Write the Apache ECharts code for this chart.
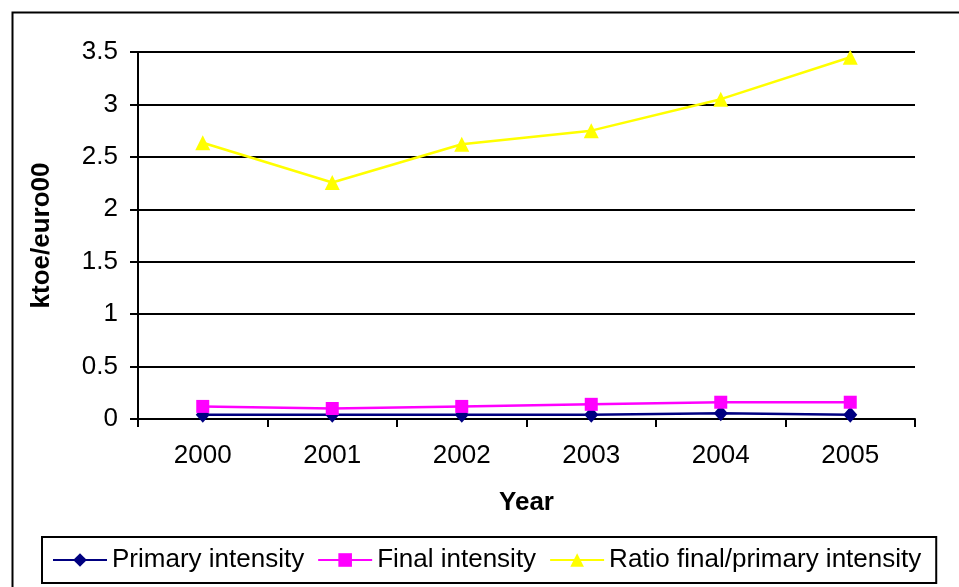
<!DOCTYPE html>
<html>
<head>
<meta charset="utf-8">
<script src="https://cdn.jsdelivr.net/npm/echarts@6/dist/echarts.min.js"></script>
<style>
  html, body { margin: 0; padding: 0; background: #fff; }
  #chart { width: 959px; height: 587px; }
</style>
</head>
<body>
<div id="chart"></div>
<script>
// Energy intensity indicators by year
const years = ['2000', '2001', '2002', '2003', '2004', '2005'];
const primaryIntensity = [0.04, 0.04, 0.04, 0.04, 0.055, 0.04];
const finalIntensity = [0.12, 0.10, 0.12, 0.14, 0.16, 0.16];
const ratioFinalPrimary = [2.635, 2.255, 2.62, 2.75, 3.05, 3.45];

const seriesNames = ['Primary intensity', 'Final intensity', 'Ratio final/primary intensity'];
const seriesColors = ['#000080', '#FF00FF', '#FFFF00'];

const FONT = '"Liberation Sans", Arial, sans-serif';
const FS = 26;

const chart = echarts.init(document.getElementById('chart'), null, { renderer: 'canvas' });

chart.setOption({
  animation: false,
  backgroundColor: '#ffffff',
  textStyle: { fontFamily: FONT, color: '#000' },
  graphic: [{
    type: 'rect',
    left: 10, top: 10,
    shape: { width: 1000, height: 1000 },
    style: { fill: 'none', stroke: '#000', lineWidth: 2 },
    silent: true, z: -1
  }],
  grid: { left: 138, right: 44, top: 52, bottom: 168 },
  legend: {
    left: 42, top: 537,
    padding: [10, 15, 10, 10],
    borderColor: '#000', borderWidth: 2,
    itemWidth: 54, itemHeight: 17, itemGap: 13,
    textStyle: { fontFamily: FONT, fontSize: FS, color: '#000' },
    data: seriesNames
  },
  xAxis: {
    type: 'category',
    data: years,
    boundaryGap: true,
    name: 'Year',
    nameLocation: 'middle',
    nameGap: 71,
    nameTextStyle: { fontFamily: FONT, fontSize: FS, fontWeight: 'bold', color: '#000' },
    axisLine: { lineStyle: { color: '#000', width: 2 } },
    axisTick: { show: true, length: 8, lineStyle: { color: '#000', width: 2 } },
    axisLabel: { fontFamily: FONT, fontSize: FS, color: '#000', margin: 24 },
    splitLine: { show: false }
  },
  yAxis: {
    type: 'value',
    min: 0, max: 3.5, interval: 0.5,
    name: 'ktoe/euro00',
    nameLocation: 'middle',
    nameGap: 83,
    nameTextStyle: { fontFamily: FONT, fontSize: FS, fontWeight: 'bold', color: '#000' },
    axisLine: { show: true, lineStyle: { color: '#000', width: 2 } },
    axisTick: { show: true, length: 8, lineStyle: { color: '#000', width: 2 } },
    axisLabel: { fontFamily: FONT, fontSize: FS, color: '#000', margin: 20 },
    splitLine: { show: true, lineStyle: { color: '#000', width: 2 } }
  },
  series: [
    {
      name: seriesNames[0], type: 'line', data: primaryIntensity,
      symbol: 'diamond', symbolSize: [14, 16],
      itemStyle: { color: seriesColors[0] },
      lineStyle: { color: seriesColors[0], width: 2.5 }, z: 3
    },
    {
      name: seriesNames[1], type: 'line', data: finalIntensity,
      symbol: 'rect', symbolSize: 13,
      itemStyle: { color: seriesColors[1] },
      lineStyle: { color: seriesColors[1], width: 2.5 }, z: 4
    },
    {
      name: seriesNames[2], type: 'line', data: ratioFinalPrimary,
      symbol: 'triangle', symbolSize: 15,
      itemStyle: { color: seriesColors[2] },
      lineStyle: { color: seriesColors[2], width: 2.5 }, z: 5
    }
  ]
});
</script>
</body>
</html>
